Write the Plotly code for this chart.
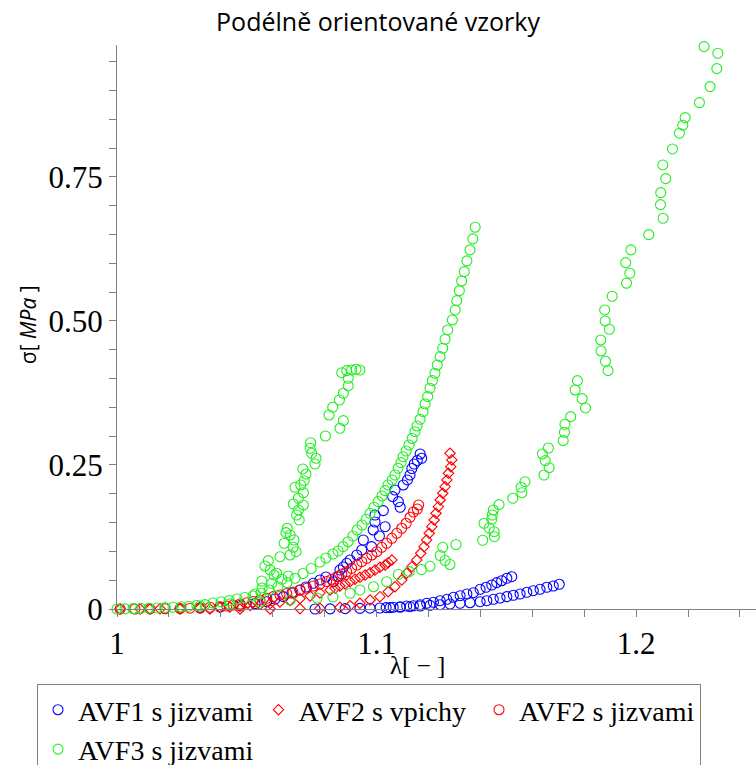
import plotly.graph_objects as go

# ---------------- data ----------------
title_text = "Podélně orientované vzorky"
series_names = ["AVF1 s jizvami", "AVF2 s vpichy", "AVF2 s jizvami", "AVF3 s jizvami"]
x_tickvals = [1.0, 1.1, 1.2]
x_ticktext = ["1", "1.1", "1.2"]
y_tickvals = [0.0, 0.25, 0.5, 0.75]
y_ticktext = ["0", "0.25", "0.50", "0.75"]

# AVF1 s jizvami (blue circles)
blue_a_x = [1.1168, 1.1174, 1.1157, 1.1145, 1.1136, 1.1129, 1.1119, 1.1103, 1.1071, 1.1062,
            1.1084, 1.1091, 1.1026, 1.0994, 1.0994, 1.1033, 1.0987, 1.1011, 1.0949, 1.0981,
            1.0943, 1.0924, 1.0898, 1.0885, 1.0872, 1.0859, 1.0853, 1.0834, 1.0805, 1.0782,
            1.0756, 1.0728, 1.0705, 1.0674, 1.0641, 1.0609, 1.0577, 1.0532, 1.0474, 1.0397, 1.0320]
blue_a_y = [0.2691, 0.2616, 0.2578, 0.2517, 0.2439, 0.2326, 0.2240, 0.2153, 0.2066, 0.1950,
            0.1863, 0.1766, 0.1707, 0.1632, 0.1510, 0.1429, 0.1372, 0.1267, 0.1198, 0.1082,
            0.1024, 0.0938, 0.0851, 0.0793, 0.0729, 0.0677, 0.0561, 0.0474, 0.0556, 0.0503,
            0.0446, 0.0382, 0.0330, 0.0278, 0.0214, 0.0174, 0.0127, 0.0095, 0.0061, 0.0035, 0.0017]
blue_b_x = [1.1521, 1.1502, 1.1482, 1.1463, 1.1444, 1.1422, 1.1399, 1.1373, 1.1348, 1.1322,
            1.1296, 1.1271, 1.1245, 1.1219, 1.1193, 1.1168, 1.1142, 1.1116, 1.1091, 1.1064, 1.1037]
blue_b_y = [0.0561, 0.0533, 0.0491, 0.0457, 0.0417, 0.0377, 0.0342, 0.0283, 0.0260, 0.0231,
            0.0203, 0.0168, 0.0144, 0.0116, 0.0099, 0.0075, 0.0057, 0.0052, 0.0040, 0.0031, 0.0024]
blue_c_x = [1.1704, 1.1681, 1.1656, 1.1630, 1.1604, 1.1579, 1.1553, 1.1527, 1.1502, 1.1476,
            1.1450, 1.1425, 1.1399, 1.1360, 1.1322, 1.1283, 1.1245, 1.1206, 1.1168, 1.1129,
            1.1091, 1.1052, 1.1013, 1.0975, 1.0936, 1.0879, 1.0821, 1.0763]
blue_c_y = [0.0429, 0.0399, 0.0377, 0.0342, 0.0318, 0.0290, 0.0260, 0.0238, 0.0214, 0.0191,
            0.0168, 0.0144, 0.0127, 0.0109, 0.0099, 0.0087, 0.0075, 0.0064, 0.0052, 0.0040,
            0.0030, 0.0023, 0.0017, 0.0014, 0.0010, 0.0007, 0.0003, 0.0000]

# AVF2 s vpichy (red diamonds)
red_d_a_x = [1.1283, 1.1290, 1.1286, 1.1277, 1.1271, 1.1264, 1.1255, 1.1245, 1.1238, 1.1229,
             1.1222, 1.1213, 1.1203, 1.1193, 1.1183, 1.1170, 1.1155, 1.1136, 1.1116, 1.1097,
             1.1071, 1.1045, 1.1013, 1.0975, 1.0936, 1.0898, 1.0859, 1.0782, 1.0705, 1.0590,
             1.0474, 1.0358, 1.0243, 1.0127]
red_d_a_y = [0.2703, 0.2587, 0.2470, 0.2356, 0.2240, 0.2123, 0.2009, 0.1892, 0.1776, 0.1661,
             0.1545, 0.1429, 0.1314, 0.1198, 0.1082, 0.0967, 0.0851, 0.0734, 0.0620, 0.0503,
             0.0387, 0.0300, 0.0214, 0.0156, 0.0099, 0.0057, 0.0030, 0.0012, 0.0005, 0.0000,
             0.0000, 0.0000, 0.0000, 0.0000]
red_d_b_x = [1.1059, 1.1045, 1.1033, 1.1013, 1.0994, 1.0975, 1.0956, 1.0936, 1.0917, 1.0898,
             1.0879, 1.0859, 1.0840, 1.0821, 1.0782, 1.0744, 1.0705, 1.0667, 1.0628, 1.0590,
             1.0551, 1.0513, 1.0474, 1.0435, 1.0397, 1.0320, 1.0243, 1.0166, 1.0089, 1.0012]
red_d_b_y = [0.0851, 0.0804, 0.0764, 0.0724, 0.0677, 0.0630, 0.0590, 0.0550, 0.0516, 0.0474,
             0.0434, 0.0399, 0.0359, 0.0330, 0.0278, 0.0226, 0.0182, 0.0148, 0.0122, 0.0095,
             0.0078, 0.0061, 0.0049, 0.0035, 0.0026, 0.0017, 0.0009, 0.0003, 0.0000, 0.0000]

# AVF2 s jizvami (red circles)
red_c_x = [1.1162, 1.1157, 1.1142, 1.1129, 1.1114, 1.1097, 1.1078, 1.1059, 1.1039, 1.1020,
           1.1001, 1.0982, 1.0962, 1.0943, 1.0924, 1.0904, 1.0885, 1.0866, 1.0847, 1.0827,
           1.0808, 1.0782, 1.0756, 1.0731, 1.0705, 1.0678, 1.0654, 1.0628, 1.0602, 1.0577,
           1.0551, 1.0524, 1.0500, 1.0474, 1.0448, 1.0423, 1.0397, 1.0358, 1.0320, 1.0281,
           1.0243, 1.0185, 1.0127, 1.0069, 1.0012]
red_c_y = [0.1806, 0.1736, 0.1684, 0.1592, 0.1488, 0.1401, 0.1314, 0.1227, 0.1141, 0.1071,
           0.0995, 0.0938, 0.0880, 0.0821, 0.0764, 0.0707, 0.0648, 0.0608, 0.0561, 0.0516,
           0.0477, 0.0434, 0.0399, 0.0359, 0.0330, 0.0295, 0.0269, 0.0243, 0.0214, 0.0186,
           0.0156, 0.0130, 0.0109, 0.0087, 0.0069, 0.0052, 0.0040, 0.0030, 0.0021, 0.0014,
           0.0009, 0.0005, 0.0002, 0.0000, 0.0000]

# AVF3 s jizvami (green circles)
green_a_x = [1.0000, 1.0031, 1.0062, 1.0092, 1.0123, 1.0154, 1.0185, 1.0216, 1.0247, 1.0277,
             1.0308, 1.0339, 1.0370, 1.0401, 1.0432, 1.0462, 1.0493, 1.0524, 1.0555, 1.0586,
             1.0620, 1.0655, 1.0686, 1.0717, 1.0748, 1.0782, 1.0805, 1.0832, 1.0852, 1.0871,
             1.0890, 1.0909, 1.0925, 1.0944, 1.0960, 1.0975, 1.0990, 1.1006, 1.1021, 1.1033,
             1.1044, 1.1060, 1.1071, 1.1083, 1.1094, 1.1102, 1.1114, 1.1125, 1.1137, 1.1148,
             1.1156, 1.1168, 1.1179, 1.1187, 1.1197, 1.1206, 1.1215, 1.1225, 1.1234, 1.1245,
             1.1255, 1.1264, 1.1274, 1.1292, 1.1303, 1.1309, 1.1319, 1.1328, 1.1338, 1.1348,
             1.1360, 1.1371, 1.1380]
green_a_y = [0.0000, 0.0003, 0.0007, 0.0010, 0.0014, 0.0017, 0.0024, 0.0031, 0.0038, 0.0049,
             0.0061, 0.0076, 0.0104, 0.0125, 0.0148, 0.0174, 0.0200, 0.0226, 0.0278, 0.0330,
             0.0387, 0.0457, 0.0533, 0.0616, 0.0703, 0.0816, 0.0885, 0.0955, 0.1007, 0.1082,
             0.1168, 0.1267, 0.1372, 0.1458, 0.1557, 0.1661, 0.1766, 0.1863, 0.1962, 0.2054,
             0.2153, 0.2240, 0.2326, 0.2443, 0.2540, 0.2644, 0.2743, 0.2847, 0.2960, 0.3078,
             0.3177, 0.3293, 0.3425, 0.3559, 0.3686, 0.3832, 0.3964, 0.4092, 0.4236, 0.4380,
             0.4526, 0.4682, 0.4844, 0.5017, 0.5191, 0.5352, 0.5526, 0.5694, 0.5856, 0.6042,
             0.6233, 0.6424, 0.6627]
green_b_x = [1.0866, 1.0885, 1.0904, 1.0921, 1.0936, 1.0891, 1.0891, 1.0872, 1.0857, 1.0831,
             1.0817, 1.0872, 1.0859, 1.0803, 1.0746, 1.0744, 1.0750, 1.0767, 1.0763, 1.0716,
             1.0728, 1.0721, 1.0708, 1.0686, 1.0718, 1.0699, 1.0718, 1.0679, 1.0699, 1.0692,
             1.0702, 1.0656, 1.0651, 1.0667, 1.0682, 1.0644, 1.0679, 1.0690, 1.0667, 1.0628,
             1.0583, 1.0570, 1.0590, 1.0615, 1.0660, 1.0558, 1.0596, 1.0635, 1.0605, 1.0559, 1.0532]
green_b_y = [0.4102, 0.4137, 0.4149, 0.4161, 0.4149, 0.4005, 0.3872, 0.3745, 0.3628, 0.3502,
             0.3368, 0.3269, 0.3137, 0.3003, 0.2887, 0.2790, 0.2703, 0.2616, 0.2517, 0.2431,
             0.2344, 0.2227, 0.2153, 0.2113, 0.2019, 0.1922, 0.1806, 0.1823, 0.1719, 0.1632,
             0.1545, 0.1401, 0.1325, 0.1285, 0.1198, 0.1141, 0.1071, 0.0995, 0.0938, 0.0908,
             0.0839, 0.0747, 0.0677, 0.0620, 0.0573, 0.0486, 0.0446, 0.0516, 0.0590, 0.0365, 0.0260]
green_c_x = [1.0320, 1.0435, 1.0551, 1.0667, 1.0771, 1.0832, 1.0898, 1.0936, 1.0988, 1.1039,
             1.1084, 1.1126, 1.1173, 1.1206, 1.1245, 1.1255, 1.1264, 1.1283, 1.1306, 1.1409,
             1.1454, 1.1453, 1.1434, 1.1414, 1.1444, 1.1446, 1.1450, 1.1472, 1.1525, 1.1560,
             1.1557, 1.1572, 1.1645, 1.1665, 1.1650, 1.1639, 1.1662, 1.1719, 1.1724, 1.1726,
             1.1748, 1.1805, 1.1792, 1.1765, 1.1774, 1.1892, 1.1882, 1.1865, 1.1864, 1.1897,
             1.1881, 1.1879, 1.1908, 1.1963, 1.1976, 1.1960, 1.1980, 1.2049, 1.2104, 1.2094,
             1.2095, 1.2114, 1.2103, 1.2140, 1.2167, 1.2180, 1.2189, 1.2244, 1.2285, 1.2311,
             1.2315, 1.2262]
green_c_y = [0.0052, 0.0087, 0.0122, 0.0156, 0.0191, 0.0208, 0.0273, 0.0330, 0.0387, 0.0474,
             0.0599, 0.0648, 0.0686, 0.0741, 0.0929, 0.1071, 0.0842, 0.0773, 0.1120, 0.1193,
             0.1255, 0.1342, 0.1406, 0.1488, 0.1557, 0.1632, 0.1719, 0.1811, 0.1922, 0.2019,
             0.2113, 0.2210, 0.2326, 0.2453, 0.2575, 0.2691, 0.2795, 0.2922, 0.3068, 0.3207,
             0.3339, 0.3490, 0.3651, 0.3802, 0.3964, 0.4137, 0.4300, 0.4479, 0.4670, 0.4856,
             0.5000, 0.5191, 0.5429, 0.5655, 0.5828, 0.6012, 0.6233, 0.6498, 0.6783, 0.7019,
             0.7227, 0.7470, 0.7708, 0.7986, 0.8259, 0.8398, 0.8530, 0.8790, 0.9068, 0.9380,
             0.9647, 0.9762]

# ---------------- figure ----------------
BLUE = "#0000ff"
RED = "#ff0000"
GREEN = "#22ee22"

fig = go.Figure()

def add(name, xs, ys, color, symbol, size):
    fig.add_trace(go.Scatter(
        x=xs, y=ys, mode="markers", name=name, cliponaxis=False,
        marker=dict(symbol=symbol, size=size, color=color,
                    line=dict(color=color, width=1.1)),
    ))

add(series_names[0], blue_a_x + blue_b_x + blue_c_x, blue_a_y + blue_b_y + blue_c_y,
    BLUE, "circle-open", 10)
add(series_names[1], red_d_a_x + red_d_b_x, red_d_a_y + red_d_b_y, RED, "diamond-open", 8)
add(series_names[2], red_c_x, red_c_y, RED, "circle-open", 10)
add(series_names[3], green_a_x + green_b_x + green_c_x, green_a_y + green_b_y + green_c_y,
    GREEN, "circle-open", 10)

AXIS_COLOR = "#808080"
TICK_FONT = dict(family="Liberation Serif", size=31, color="black")

fig.update_layout(
    width=756, height=765,
    margin=dict(l=117, r=0, t=45, b=156, autoexpand=False),
    paper_bgcolor="white", plot_bgcolor="white",
    title=dict(text=title_text, x=0.5, xanchor="center", y=0.971, yanchor="middle",
               font=dict(family="Open Sans", size=25, color="black")),
    showlegend=True,
    legend=dict(orientation="h", x=-0.1252, xanchor="left", y=-0.133, yanchor="top",
                font=dict(family="Liberation Serif", size=28, color="black"),
                bordercolor=AXIS_COLOR, borderwidth=1, bgcolor="white",
                tracegroupgap=0, itemsizing="trace"),
    xaxis=dict(range=[1.0, 1.2462], showgrid=False, zeroline=False,
               showline=True, linecolor=AXIS_COLOR, linewidth=1,
               tickvals=x_tickvals, ticktext=x_ticktext, ticks="outside",
               ticklen=7, tickcolor=AXIS_COLOR, tickfont=TICK_FONT,
               minor=dict(dtick=0.02, tick0=1.0, ticks="outside", ticklen=7,
                          tickcolor=AXIS_COLOR, showgrid=False)),
    yaxis=dict(range=[0.0, 0.979], showgrid=False, zeroline=False,
               showline=True, linecolor=AXIS_COLOR, linewidth=1,
               tickvals=y_tickvals, ticktext=y_ticktext, ticks="outside",
               ticklen=7, tickcolor=AXIS_COLOR, tickfont=TICK_FONT,
               minor=dict(dtick=0.05, tick0=0.0, ticks="outside", ticklen=7,
                          tickcolor=AXIS_COLOR, showgrid=False)),
    annotations=[
        dict(text="σ[ <i>MPa</i> ]", xref="paper", yref="paper", x=-0.139, y=0.5035,
             xanchor="center", yanchor="middle", textangle=-90, showarrow=False,
             font=dict(family="Open Sans", size=21, color="black")),
        dict(text="λ[ − ]", xref="paper", yref="paper", x=0.471, y=-0.0993,
             xanchor="center", yanchor="middle", showarrow=False,
             font=dict(family="Liberation Serif", size=25, color="black")),
    ],
)

# remove the browser's default 8px page margin so the figure sits at the window origin
fig.write_html("out.html", config={"displayModeBar": False},
               post_script="document.body.style.margin='0';document.body.style.overflow='hidden';")
